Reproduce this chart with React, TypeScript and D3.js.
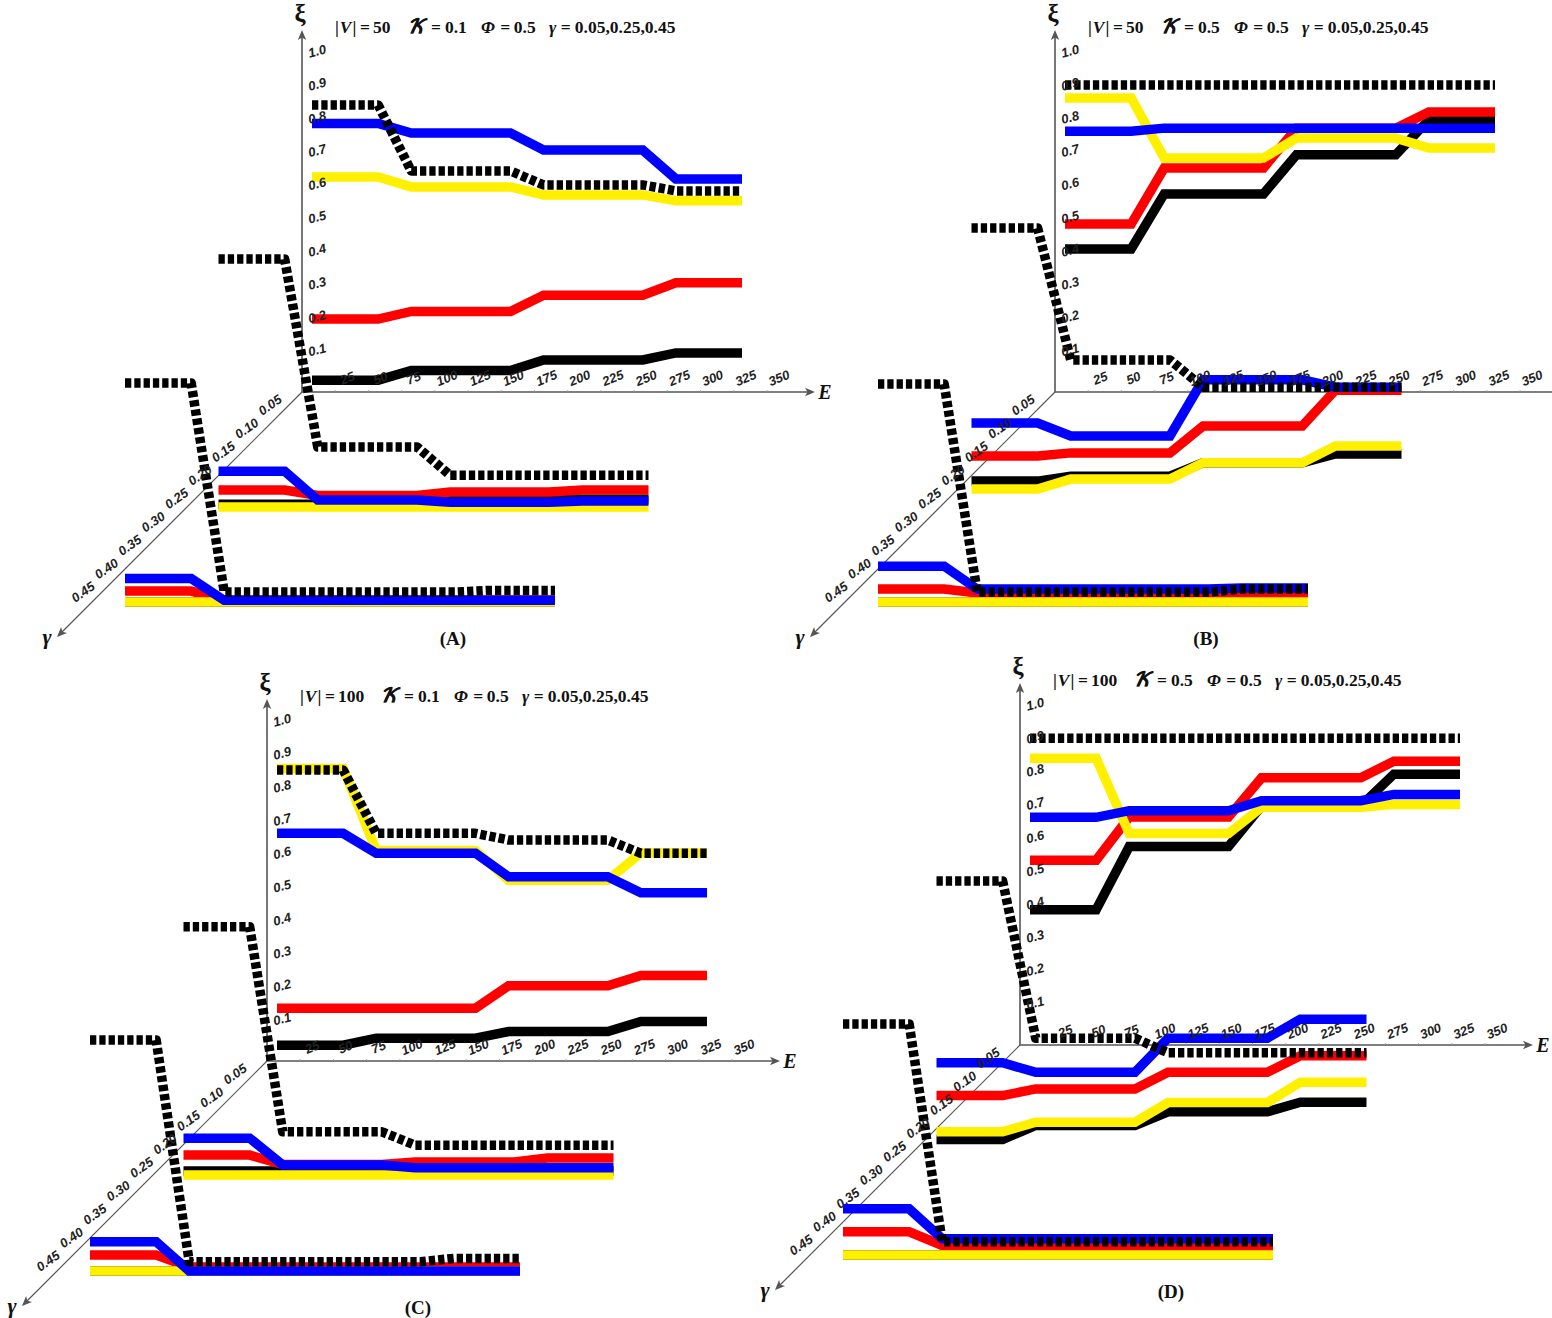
import React from "react";
import * as d3 from "d3";

// Contention values E at which each plateau starts and ends
const plateauE: number[][] = [[0, 50], [75, 150], [175, 250], [275, 325]];
const eTicks = [25, 50, 75, 100, 125, 150, 175, 200, 225, 250, 275, 300, 325, 350];
const xiTicks = [0.1, 0.2, 0.3, 0.4, 0.5, 0.6, 0.7, 0.8, 0.9, 1.0];
const gammaTicks = [0.05, 0.1, 0.15, 0.2, 0.25, 0.3, 0.35, 0.4, 0.45];

// Panel A: |V|=50, K=0.1
const aBackBlack = [0.099, 0.128, 0.160, 0.181];
const aBackRed = [0.283, 0.306, 0.355, 0.392];
const aBackYellow = [0.711, 0.681, 0.657, 0.639];
const aBackBlue = [0.872, 0.843, 0.792, 0.705];
const aBackDash = [0.928, 0.729, 0.687, 0.669];
const aMidBlack = [0.011, 0.011, 0.023, 0.026];
const aMidRed = [0.054, 0.038, 0.048, 0.054];
const aMidYellow = [0.003, 0.003, 0.003, 0.003];
const aMidBlue = [0.111, 0.024, 0.017, 0.021];
const aMidDash = [0.750, 0.184, 0.099, 0.099];
const aFrontBlack = [0.003, 0.003, 0.003, 0.003];
const aFrontRed = [0.036, 0.009, 0.009, 0.009];
const aFrontYellow = [0.003, 0.003, 0.003, 0.003];
const aFrontBlue = [0.074, 0.008, 0.008, 0.008];
const aFrontDash = [0.663, 0.033, 0.033, 0.038];

// Panel B: |V|=50, K=0.5
const bBackBlack = [0.494, 0.660, 0.778, 0.883];
const bBackRed = [0.569, 0.738, 0.858, 0.907];
const bBackYellow = [0.949, 0.768, 0.828, 0.798];
const bBackBlue = [0.849, 0.858, 0.858, 0.858];
const bBackDash = [0.988, 0.988, 0.988, 0.988];
const bMidBlack = [0.081, 0.096, 0.136, 0.163];
const bMidRed = [0.157, 0.166, 0.247, 0.355];
const bMidYellow = [0.057, 0.087, 0.136, 0.187];
const bMidBlue = [0.256, 0.217, 0.386, 0.364];
const bMidDash = [0.843, 0.446, 0.364, 0.364];
const bFrontBlack = [0.003, 0.003, 0.003, 0.003];
const bFrontRed = [0.042, 0.030, 0.030, 0.030];
const bFrontYellow = [0.003, 0.003, 0.003, 0.003];
const bFrontBlue = [0.111, 0.042, 0.042, 0.045];
const bFrontDash = [0.660, 0.033, 0.033, 0.042];

// Panel C: |V|=100, K=0.1
const cBackBlack = [0.111, 0.132, 0.152, 0.182];
const cBackRed = [0.222, 0.222, 0.290, 0.321];
const cBackYellow = [0.944, 0.697, 0.608, 0.690];
const cBackBlue = [0.749, 0.689, 0.618, 0.570];
const cBackDash = [0.940, 0.749, 0.729, 0.689];
const cMidBlack = [0.018, 0.018, 0.018, 0.018];
const cMidRed = [0.066, 0.038, 0.045, 0.057];
const cMidYellow = [0.006, 0.006, 0.006, 0.006];
const cMidBlue = [0.117, 0.036, 0.028, 0.028];
const cMidDash = [0.754, 0.136, 0.096, 0.096];
const cFrontBlack = [0.003, 0.003, 0.003, 0.003];
const cFrontRed = [0.051, 0.015, 0.015, 0.015];
const cFrontYellow = [0.003, 0.003, 0.003, 0.003];
const cFrontBlue = [0.091, 0.003, 0.003, 0.003];
const cFrontDash = [0.699, 0.031, 0.031, 0.041];

// Panel D: |V|=100, K=0.5
const dBackBlack = [0.471, 0.661, 0.783, 0.879];
const dBackRed = [0.620, 0.750, 0.868, 0.918];
const dBackYellow = [0.927, 0.700, 0.779, 0.788];
const dBackBlue = [0.749, 0.769, 0.799, 0.818];
const dBackDash = [0.987, 0.987, 0.987, 0.987];
const dMidBlack = [0.065, 0.107, 0.148, 0.177];
const dMidRed = [0.197, 0.217, 0.267, 0.317];
const dMidYellow = [0.088, 0.117, 0.176, 0.237];
const dMidBlue = [0.296, 0.267, 0.370, 0.427];
const dMidDash = [0.843, 0.370, 0.326, 0.326];
const dFrontBlack = [0.003, 0.003, 0.003, 0.003];
const dFrontRed = [0.073, 0.032, 0.032, 0.032];
const dFrontYellow = [0.003, 0.003, 0.003, 0.003];
const dFrontBlue = [0.142, 0.052, 0.052, 0.052];
const dFrontDash = [0.699, 0.043, 0.043, 0.043];

const serif = "'Liberation Serif','Times New Roman',serif";
const sans = "'Liberation Sans',Arial,sans-serif";
const axisColor = "#555";

const seriesStyle = [
  { color: "#000000", dash: false },
  { color: "#ff0000", dash: false },
  { color: "#fff000", dash: false },
  { color: "#0000ff", dash: false },
  { color: "#000000", dash: true },
];

const planeGammas = [0.05, 0.25, 0.45];

const panels = [
  { label: "(A)", V: 50, K: "0.1", ox: 302, oy: 392, planes: [
    [aBackBlack, aBackRed, aBackYellow, aBackBlue, aBackDash],
    [aMidBlack, aMidRed, aMidYellow, aMidBlue, aMidDash],
    [aFrontBlack, aFrontRed, aFrontYellow, aFrontBlue, aFrontDash],
  ] },
  { label: "(B)", V: 50, K: "0.5", ox: 1055, oy: 392, planes: [
    [bBackBlack, bBackRed, bBackYellow, bBackBlue, bBackDash],
    [bMidBlack, bMidRed, bMidYellow, bMidBlue, bMidDash],
    [bFrontBlack, bFrontRed, bFrontYellow, bFrontBlue, bFrontDash],
  ] },
  { label: "(C)", V: 100, K: "0.1", ox: 267, oy: 1061, planes: [
    [cBackBlack, cBackRed, cBackYellow, cBackBlue, cBackDash],
    [cMidBlack, cMidRed, cMidYellow, cMidBlue, cMidDash],
    [cFrontBlack, cFrontRed, cFrontYellow, cFrontBlue, cFrontDash],
  ] },
  { label: "(D)", V: 100, K: "0.5", ox: 1020, oy: 1045, planes: [
    [dBackBlack, dBackRed, dBackYellow, dBackBlue, dBackDash],
    [dMidBlack, dMidRed, dMidYellow, dMidBlue, dMidDash],
    [dFrontBlack, dFrontRed, dFrontYellow, dFrontBlue, dFrontDash],
  ] },
];

function Arrow({ x, y, angle }: { x: number; y: number; angle: number }) {
  return (
    <path
      d="M0,0 L-10,-4.2 L-7.5,0 L-10,4.2 Z"
      transform={`translate(${x},${y}) rotate(${angle})`}
      fill={axisColor}
    />
  );
}

function Panel({ p }: { p: (typeof panels)[number] }) {
  const { ox, oy } = p;
  const eLen = d3.scaleLinear().domain([0, 350]).range([0, 465]);
  const lineE = d3.scaleLinear().domain([0, 325]).range([0, 430]);
  const xiLen = d3.scaleLinear().domain([0, 1]).range([0, 332]);
  const planeX = d3.scaleLinear().domain([0.05, 0.45]).range([ox + 10, ox - 177]);
  const planeY = d3.scaleLinear().domain([0.05, 0.45]).range([oy + 21, oy + 211]);
  const gammaLabelX = d3.scaleLinear().domain([0.05, 0.45]).range([ox - 32, ox - 219]);
  const gammaLabelY = d3.scaleLinear().domain([0.05, 0.45]).range([oy + 13, oy + 200]);

  const kDx = p.V === 100 ? 81 : 73;

  const marks = p.planes.map((series, pi) => {
    const g = planeGammas[pi];
    const line = d3
      .line<[number, number]>()
      .x((d) => planeX(g) + lineE(d[0]))
      .y((d) => planeY(g) - xiLen(d[1]));
    return series.map((levels, si) => {
      const pts: [number, number][] = [];
      levels.forEach((v, i) => {
        pts.push([plateauE[i][0], v]);
        pts.push([plateauE[i][1], v]);
      });
      const st = seriesStyle[si];
      return (
        <path
          key={`${pi}-${si}`}
          d={line(pts) || ""}
          fill="none"
          stroke={st.color}
          strokeWidth={9.5}
          strokeDasharray={st.dash ? "6.3,3" : undefined}
          strokeLinejoin={st.dash ? "round" : "miter"}
        />
      );
    });
  });

  const tx = ox + 33;
  const ty = oy - 359;
  const titleStyle = { fontFamily: serif, fontWeight: 700, fontSize: 17.5, fill: "#111" } as const;
  const tickStyle = { fontFamily: sans, fontWeight: 700, fontStyle: "italic", fontSize: 13, fill: "#222" } as const;

  return (
    <g>
      {/* axes */}
      <line x1={ox} y1={oy} x2={ox} y2={oy - 358} stroke={axisColor} strokeWidth={1.6} />
      <Arrow x={ox} y={oy - 362} angle={-90} />
      <line x1={ox} y1={oy} x2={ox + 508} y2={oy} stroke={axisColor} strokeWidth={1.6} />
      <Arrow x={ox + 513} y={oy} angle={0} />
      <line x1={ox} y1={oy} x2={ox - 242} y2={oy + 242} stroke={axisColor} strokeWidth={1.2} />
      <Arrow x={ox - 245} y={oy + 245} angle={135} />
      {eTicks.map((e) => (
        <line key={e} x1={ox + eLen(e)} x2={ox + eLen(e)} y1={oy} y2={oy - 2} stroke="#999" strokeWidth={0.8} />
      ))}

      {marks}

      {/* tick labels */}
      {eTicks.map((e) => (
        <text
          key={e}
          transform={`translate(${ox + eLen(e) + 12},${oy - 14}) rotate(-22)`}
          textAnchor="middle"
          dominantBaseline="central"
          {...tickStyle}
        >
          {e}
        </text>
      ))}
      {xiTicks.map((v) => (
        <text
          key={v}
          transform={`translate(${ox + 15},${oy - xiLen(v) - 9}) rotate(-15)`}
          textAnchor="middle"
          dominantBaseline="central"
          {...tickStyle}
        >
          {v.toFixed(1)}
        </text>
      ))}
      {gammaTicks.map((g) => (
        <text
          key={g}
          transform={`translate(${gammaLabelX(g)},${gammaLabelY(g)}) rotate(-35)`}
          textAnchor="middle"
          dominantBaseline="central"
          {...tickStyle}
        >
          {g.toFixed(2)}
        </text>
      ))}

      {/* axis names */}
      <text x={ox - 2} y={oy - 379} textAnchor="middle" dominantBaseline="central" fontFamily={serif} fontWeight={700} fontSize={25} fill="#111">ξ</text>
      {ox + 530 < 1552 && (
        <text x={ox + 523} y={oy} textAnchor="middle" dominantBaseline="central" fontFamily={serif} fontWeight={700} fontStyle="italic" fontSize={20} fill="#111">E</text>
      )}
      <text x={ox - 255} y={oy + 244} textAnchor="middle" dominantBaseline="central" fontFamily={serif} fontWeight={700} fontStyle="italic" fontSize={22} fill="#111">γ</text>

      {/* title */}
      <text x={tx} y={ty} {...titleStyle}>
        <tspan>|</tspan><tspan dx={1} fontStyle="italic">V</tspan><tspan dx={1}>|</tspan><tspan dx={3.5}>=</tspan><tspan dx={3}>{p.V}</tspan>
      </text>
      <text x={tx + kDx - 1} y={ty} {...titleStyle}>
        <tspan fontStyle="italic" fontSize={19} stroke="#111" strokeWidth={0.4} fontFamily="'DejaVu Math TeX Gyre','DejaVu Serif',serif">𝒦</tspan><tspan dx={6}>=</tspan><tspan dx={4}>{p.K}</tspan>
      </text>
      <text x={tx + kDx + 73} y={ty} {...titleStyle}>
        <tspan fontStyle="italic">Φ</tspan><tspan dx={5.5}>=</tspan><tspan dx={3.5}>0.5</tspan>
      </text>
      <text x={tx + kDx + 141} y={ty} {...titleStyle}>
        <tspan fontStyle="italic">γ</tspan><tspan dx={4.5}>=</tspan><tspan dx={4}>0.05,0.25,0.45</tspan>
      </text>

      <text x={ox + 151} y={oy + 246} textAnchor="middle" dominantBaseline="central" fontFamily={serif} fontWeight={700} fontSize={19} fill="#111">
        {p.label}
      </text>
    </g>
  );
}

export default function App() {
  return (
    <svg
      width={1552}
      height={1318}
      viewBox="0 0 1552 1318"
      style={{ position: "absolute", left: 0, top: 0, background: "#fff" }}
    >
      {panels.map((p) => (
        <Panel key={p.label} p={p} />
      ))}
    </svg>
  );
}
